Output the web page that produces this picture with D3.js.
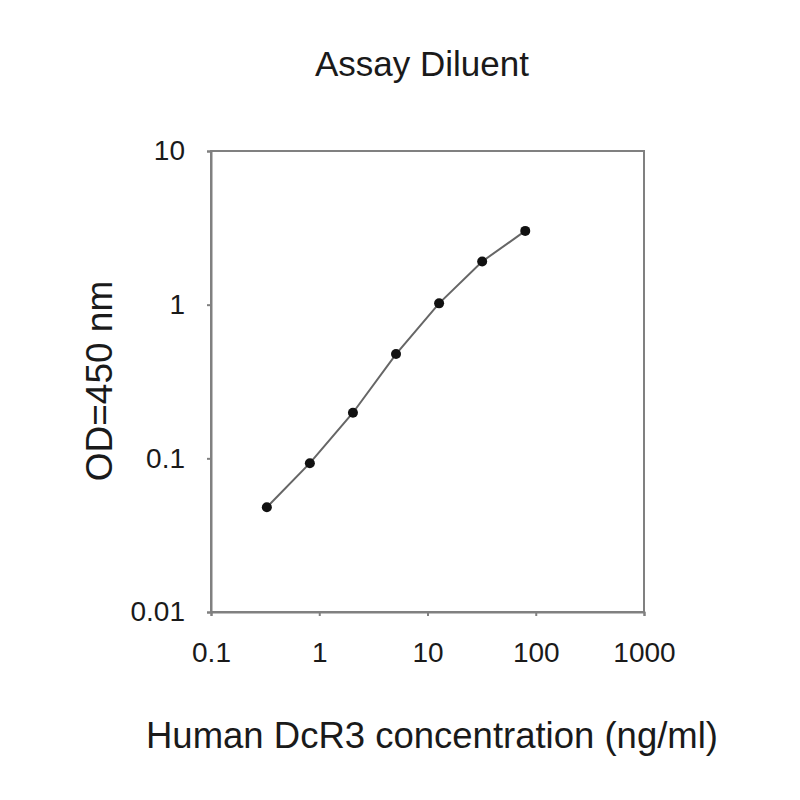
<!DOCTYPE html>
<html>
<head>
<meta charset="utf-8">
<script src="https://cdn.jsdelivr.net/npm/d3@7"></script>
<style>
  body { margin: 0; background: #fff; }
  text { font-family: "Liberation Sans", Arial, sans-serif; fill: #1a1a1a; }
</style>
</head>
<body>
<div id="chart"></div>
<script>
// concentration (ng/ml) and OD readings
const concentrations = [0.328, 0.819, 2.048, 5.12, 12.8, 32, 80]
const odValues = [0.048, 0.093, 0.198, 0.477, 1.02, 1.91, 3.02]
const xTicks = [0.1, 1, 10, 100, 1000]
const yTicks = [0.01, 0.1, 1, 10]
const xTickLabels = ['0.1', '1', '10', '100', '1000']
const yTickLabels = ['0.01', '0.1', '1', '10']

const margin = { top: 151, right: 156, bottom: 188, left: 211 }
const width = 800 - margin.left - margin.right
const height = 800 - margin.top - margin.bottom

const root = d3.select('#chart').append('svg')
    .attr('width', 800)
    .attr('height', 800)

const svg = root.append('g')
    .attr('transform', 'translate(' + margin.left + ',' + margin.top + ')')

const xPositionScale = d3.scaleLog()
  .domain([0.1, 1000])
  .range([0, width])

const yPositionScale = d3.scaleLog()
  .domain([0.01, 10])
  .range([height, 0])

// plot frame
svg.append('rect')
  .attr('width', width)
  .attr('height', height)
  .attr('fill', 'none')
  .attr('stroke', '#808080')
  .attr('stroke-width', 2)

const xAxis = d3.axisBottom(xPositionScale)
  .tickValues(xTicks)
  .tickFormat((d, i) => xTickLabels[i])
  .tickSizeOuter(0)
  .tickSize(4)
  .tickPadding(26)
svg.append('g')
  .attr('class', 'axis x-axis')
  .attr('transform', 'translate(0,' + height + ')')
  .call(xAxis)

const yAxis = d3.axisLeft(yPositionScale)
  .tickValues(yTicks)
  .tickFormat((d, i) => yTickLabels[i])
  .tickSizeOuter(0)
  .tickSize(4)
  .tickPadding(22)
svg.append('g')
  .attr('class', 'axis y-axis')
  .call(yAxis)

svg.selectAll('.axis path').attr('stroke', '#808080').attr('stroke-width', 2)
svg.selectAll('.axis line').attr('stroke', '#808080').attr('stroke-width', 2)
svg.selectAll('.axis text')
  .attr('font-size', 28)
  .attr('fill', '#1a1a1a')
  .attr('font-family', '"Liberation Sans", Arial, sans-serif')

const datapoints = concentrations.map((c, i) => ({ conc: c, od: odValues[i] }))

const line = d3.line()
  .x(d => xPositionScale(d.conc))
  .y(d => yPositionScale(d.od))

svg.append('path')
  .datum(datapoints)
  .attr('d', line)
  .attr('fill', 'none')
  .attr('stroke', '#666')
  .attr('stroke-width', 2)

svg.selectAll('circle')
  .data(datapoints)
  .join('circle')
  .attr('r', 5)
  .attr('cx', d => xPositionScale(d.conc))
  .attr('cy', d => yPositionScale(d.od))
  .attr('fill', '#111')

// titles
root.append('text')
  .attr('x', 422)
  .attr('y', 76)
  .attr('text-anchor', 'middle')
  .attr('font-size', 35)
  .text('Assay Diluent')

root.append('text')
  .attr('x', 432)
  .attr('y', 748)
  .attr('text-anchor', 'middle')
  .attr('font-size', 36.5)
  .text('Human DcR3 concentration (ng/ml)')

root.append('text')
  .attr('transform', 'translate(112,381) rotate(-90)')
  .attr('text-anchor', 'middle')
  .attr('font-size', 37)
  .text('OD=450 nm')
</script>
</body>
</html>
